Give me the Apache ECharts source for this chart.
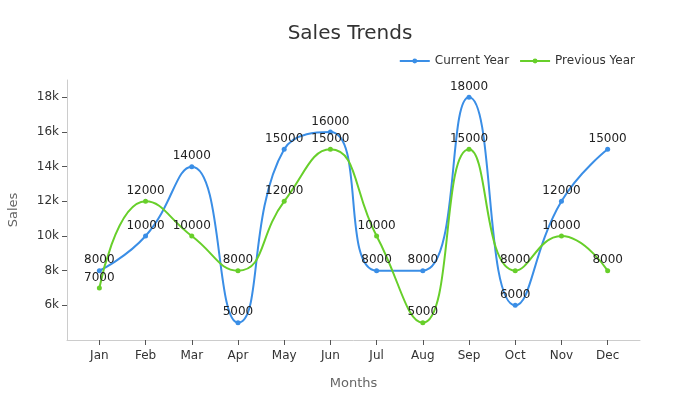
<!DOCTYPE html>
<html><head><meta charset="utf-8">
<script src="https://cdn.jsdelivr.net/npm/echarts@6/dist/echarts.min.js"></script>
<style>html,body{margin:0;padding:0;background:#fff}#c{width:700px;height:400px}</style>
</head><body><div id="c"></div>
<script>
const months = ['Jan','Feb','Mar','Apr','May','Jun','Jul','Aug','Sep','Oct','Nov','Dec'];
const currentYear = [8000,10000,14000,5000,15000,16000,8000,8000,18000,6000,12000,15000];
const previousYear = [7000,12000,10000,8000,12000,15000,10000,5000,15000,8000,10000,8000];
const yTicks = [6000,8000,10000,12000,14000,16000,18000];

const idx = months.map((m,i)=>i);
const font = "'DejaVu Sans'";
const chart = echarts.init(document.getElementById('c'));
const mk = (name, vals, color) => ({
  name, type:'line', smooth:0.5,
  data: vals.map((v,i)=>[i,v]),
  symbol:'circle', symbolSize:5,
  lineStyle:{width:2,color}, itemStyle:{color},
  label:{show:true,position:'top',distance:2,color:'#222',fontSize:12,fontFamily:font}
});
chart.setOption({
  animation:false,
  title:{text:'Sales Trends',left:'center',top:19,textStyle:{fontSize:20,fontWeight:'normal',color:'#333',fontFamily:font}},
  legend:{right:60,top:50,itemWidth:30,itemHeight:6,itemGap:10,textStyle:{fontSize:12,color:'#333',fontFamily:font},
    data:['Current Year','Previous Year']},
  grid:{left:67,right:60,top:80,bottom:60,containLabel:false,outerBoundsMode:'none'},
  xAxis:{type:'value',min:-0.7,max:11.7,
    name:'Months',nameLocation:'middle',nameGap:37,nameTextStyle:{fontSize:13,color:'#666',fontFamily:font},
    axisLine:{lineStyle:{color:'#ccc'}},
    axisTick:{show:true,customValues:idx,length:5,lineStyle:{color:'#555'}},
    axisLabel:{customValues:idx,formatter:v=>months[Math.round(v)]||'',color:'#333',fontSize:12,fontFamily:font,margin:10},
    splitLine:{show:false}},
  yAxis:{type:'value',min:4000,max:19000,
    name:'Sales',nameLocation:'middle',nameGap:47,nameTextStyle:{fontSize:13,color:'#666',fontFamily:font},
    axisLine:{show:true,onZero:false,lineStyle:{color:'#ccc'}},
    axisTick:{show:true,customValues:yTicks,length:5,lineStyle:{color:'#555'}},
    axisLabel:{customValues:yTicks,formatter:v=>(v/1000)+'k',color:'#333',fontSize:12,fontFamily:font,margin:8},
    splitLine:{show:false}},
  series:[mk('Current Year',currentYear,'#3a8ee6'), mk('Previous Year',previousYear,'#67cf2a')]
});
</script></body></html>
